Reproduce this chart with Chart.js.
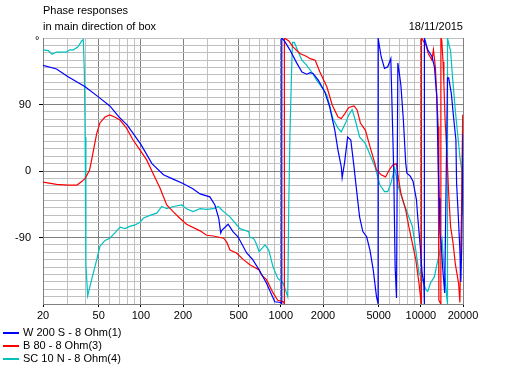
<!DOCTYPE html>
<html>
<head>
<meta charset="utf-8">
<script src="https://cdn.jsdelivr.net/npm/chart.js@4.4.1/dist/chart.umd.min.js"></script>
<style>
  body { margin: 0; background: #fff; }
  #wrap { position: relative; width: 506px; height: 366px; font: 11px "Liberation Sans", Arial, sans-serif; color: #000; }
  #wrap canvas { position: absolute; left: 0; top: 0; }
  .txt { position: absolute; line-height: 11px; white-space: nowrap; }
  .leg { position: absolute; left: 0; height: 11px; }
  .leg i { position: absolute; left: 3px; top: 5px; width: 16px; height: 0; border-top: 2px solid; }
  .leg span { position: absolute; left: 23px; top: 0; line-height: 11px; white-space: nowrap; }
</style>
</head>
<body>
<div id="wrap">
  <canvas id="phase" width="506" height="366"></canvas>
  <div class="txt" style="left:43px;top:5px">Phase responses</div>
  <div class="txt" style="left:43px;top:21px">in main direction of box</div>
  <div class="txt" style="right:43px;top:21px">18/11/2015</div>
  <div class="txt" style="left:35px;top:35px">°</div>
  <div id="legend"></div>
</div>
<script>
// phase responses, freq in Hz, phase in degrees
var seriesNames = ["W 200 S - 8 Ohm(1)", "B 80 - 8 Ohm(3)", "SC 10 N - 8 Ohm(4)"];
var seriesColors = ["#0000ff", "#ff0000", "#00c0c0"];

var wFreq = [20,25,30,40,50,60,70,80,100,120,145,170,200,235,265,311,338,360,372,380,420,455,494,570,630,700,790,905,1000,1015,1015,1060,
  1160,1300,1415,1530,1620,1700,1850,2060,2230,2430,2560,2700,2740,2850,3000,3160,3330,3450,3650,3850,4100,4330,4570,4820,4950,4950,
  5200,5500,5800,6100,6400,6550,6700,6850,7000,7200,7500,7800,7950,8400,8800,9300,9500,9900,10200,10500,10600,10600,
  11200,12000,12500,13000,13300,13500,13700,14000,14300,14800,15500,15800,16500,17200,17800,18000,18500,19000,19300,19600,20000];
var wPhase = [143,138,128,114,100,88,73,62,36,10,-5,-11,-17,-24,-31,-35,-46,-64,-84,-80,-72,-82,-89,-111,-120,-134,-152,-177,-178,-180,180,176,
  164,146,134,131,133,132,123,107,87,55,28,6,-9,11,46,42,6,-21,-62,-82,-89,-107,-134,-170,-180,180,
  155,139,141,152,0,-130,-172,146,134,116,69,10,-3,-7,-14,-39,-62,-102,-138,-152,-180,180,
  164,155,141,100,10,-37,-84,-102,-130,-165,126,126,105,69,42,-17,-60,-107,-150,-100,50];

var bFreq = [20,25,30,35,38,40,43,44.5,48.4,51,55.5,60,65,71,79,88,99,110,122,137,153,170,190,212,265,295,330,390,410,433,482,540,601,700,730,790,880,950,1040,1060,1060,
  1140,1220,1370,1530,1620,1760,1900,2130,2330,2560,2700,2850,3060,3330,3500,3700,4020,4330,4700,4820,5200,5600,5930,6300,6700,6940,7200,7800,8200,8700,9200,9700,9930,10100,10100,
  10900,11300,12000,12300,12700,13000,13300,13450,13900,13900,14100,14400,14600,14900,15300,15800,16300,17000,17600,18600,19000,19200,19500,19900,20000];
var bPhase = [-15,-18,-19,-19,-14,-10,1,15,51,65,73,76,73,69,58,42,28,15,-3,-23,-46,-55,-64,-72,-81,-87,-88,-91,-96,-107,-111,-120,-127,-134,-141,-147,-165,-175,-177,-180,180,
  176,168,159,155,152,150,134,114,89,73,71,77,86,88,83,65,55,33,10,1,-5,-8,1,8,10,-12,-30,-53,-75,-98,-120,-152,-170,-180,180,
  170,159,150,164,140,100,60,-175,-180,180,177,148,119,69,28,-30,-75,-98,-125,-152,-178,-120,-60,76,-40];

var scFreq = [20,21.8,23.2,25,29.5,31,33,35.6,37.8,38.8,39.5,40,40.5,41.7,44.5,48.4,51,55.5,60,65,71,77,83,91,99,104,116,130,141,153,171,196,212,236,265,295,330,358,390,433,510,590,601,637,660,700,770,820,880,950,1040,1120,
  1140,1160,1190,1210,1250,1330,1415,1530,1660,1800,1950,2130,2230,2350,2560,2700,2930,3060,3230,3400,3650,4020,4400,4700,5100,5500,5800,6100,6500,6900,7400,8200,8700,9200,9700,10200,10900,11200,11700,12500,13000,13600,14200,14500,15300,15500,15500,
  16000,16300,16900,17700,18500,19000,19600,20000];
var scPhase = [164,163,158,161,161,164,164,168,176,178,134,46,-127,-169,-147,-120,-102,-94,-91,-84,-76,-78,-75,-73,-69,-64,-60,-57,-48,-51,-48,-46,-51,-55,-51,-52,-51,-48,-55,-62,-78,-82,-90,-91,-96,-109,-100,-107,-130,-145,-152,-170,
  -42,46,128,174,174,161,150,143,134,123,114,103,89,71,58,53,67,76,83,69,46,37,19,6,-19,-28,-28,-17,4,-21,-39,-62,-75,-107,-138,-147,-161,-163,-152,-143,-127,-111,-93,-120,-170,-180,180,
  168,163,123,78,42,19,1,-60];

// axis ticks
var xGrid = [20,30,40,50,60,70,80,90,100,200,300,400,500,600,700,800,900,1000,2000,3000,4000,5000,6000,7000,8000,9000,10000,20000];
var xLabels = [20,50,100,200,500,1000,2000,5000,10000,20000];
var yLabels = [90,0,-90];

function pts(f, p){
    return f.map(function(v, i){ return {x: v, y: p[i]}; });
}

var minorGrid = "#c0c0c0";
var majorGrid = "#808080";
var font = {family: "'Liberation Sans', Arial, sans-serif", size: 11};

var datasets = [pts(wFreq, wPhase), pts(bFreq, bPhase), pts(scFreq, scPhase)].map(function(d, i){
    return {
        label: seriesNames[i],
        data: d,
        borderColor: seriesColors[i],
        backgroundColor: seriesColors[i],
        borderWidth: 1.2,
        pointRadius: 0,
        showLine: true,
        tension: 0
    };
});

new Chart(document.getElementById("phase"), {
    type: "scatter",
    data: {datasets: datasets},
    options: {
        responsive: false,
        animation: false,
        events: [],
        layout: {padding: {top: 38, right: 43, bottom: 0, left: 0}},
        plugins: {legend: {display: false}, tooltip: {enabled: false}},
        scales: {
            x: {
                type: "logarithmic",
                min: 20,
                max: 20000,
                afterBuildTicks: function(s){ s.ticks = xGrid.map(function(v){ return {value: v}; }); },
                afterFit: function(s){ s.height = 62; },
                border: {color: majorGrid},
                grid: {
                    color: function(c){ return xLabels.indexOf(c.tick.value) >= 0 ? majorGrid : minorGrid; },
                    tickColor: function(c){ return xLabels.indexOf(c.tick.value) >= 0 ? "#000" : "rgba(0,0,0,0)"; },
                    tickLength: 3
                },
                ticks: {
                    autoSkip: false,
                    maxRotation: 0,
                    padding: 2,
                    color: "#000",
                    font: font,
                    callback: function(v){ return xLabels.indexOf(v) >= 0 ? String(v) : ""; }
                }
            },
            y: {
                min: -180,
                max: 180,
                afterFit: function(s){ s.width = 43; },
                border: {color: majorGrid},
                grid: {
                    color: function(c){ return yLabels.indexOf(c.tick.value) >= 0 ? majorGrid : minorGrid; },
                    tickColor: function(c){ return yLabels.indexOf(c.tick.value) >= 0 ? "#000" : "rgba(0,0,0,0)"; },
                    tickLength: 4
                },
                ticks: {
                    stepSize: 10,
                    autoSkip: false,
                    padding: 8,
                    color: "#000",
                    font: font,
                    callback: function(v){ return yLabels.indexOf(v) >= 0 ? String(v) : ""; }
                }
            }
        }
    }
});

// legend, stacked at bottom left
var legend = document.getElementById("legend");
seriesNames.forEach(function(name, i){
    var row = document.createElement("div");
    row.className = "leg";
    row.style.top = (327 + i * 13) + "px";
    row.innerHTML = '<i style="border-color:' + seriesColors[i] + '"></i><span>' + name + '</span>';
    legend.appendChild(row);
});
</script>
</body>
</html>
